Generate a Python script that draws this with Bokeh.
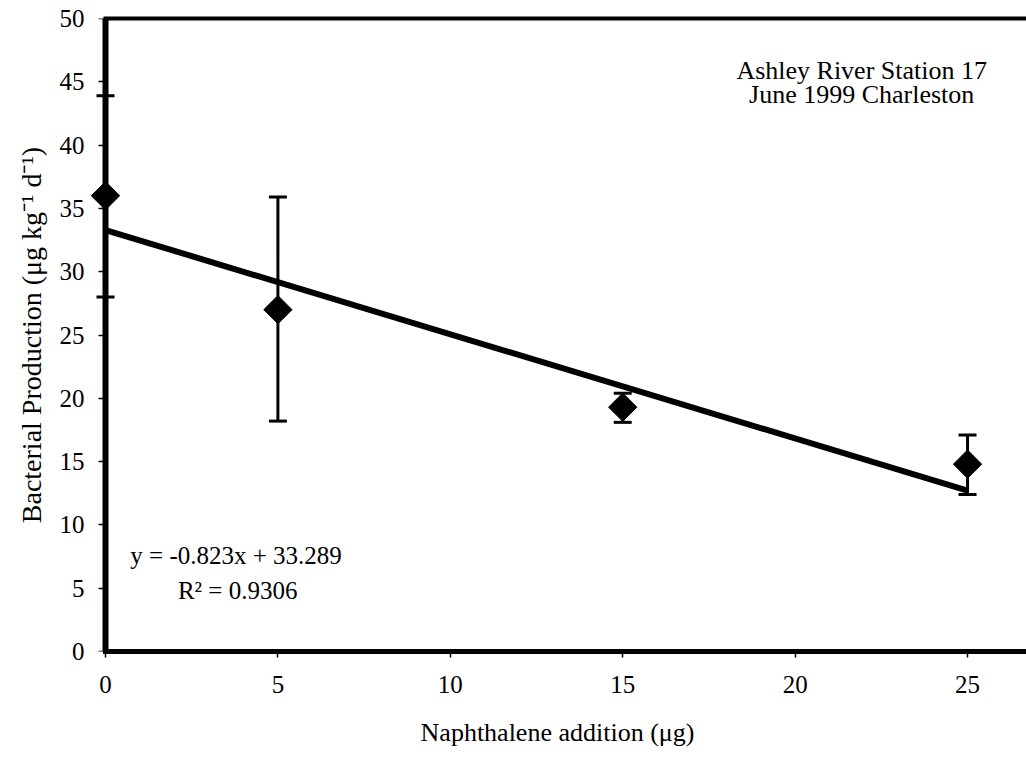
from bokeh.plotting import figure
from bokeh.models import (ColumnDataSource, Whisker, TeeHead, Label, LinearAxis,
                          FixedTicker, Range1d)
from bokeh.embed import file_html
from bokeh.resources import INLINE

# ---- data ----
naphthalene = [0, 5, 15, 25]
production = [36.0, 27.0, 19.3, 14.8]
err_upper = [43.9, 35.9, 20.4, 17.1]
err_lower = [28.0, 18.2, 18.1, 12.4]
slope = -0.823
intercept = 33.289
fit_x = [0, 25]
x_ticks = [0, 5, 10, 15, 20, 25]
y_ticks = [0, 5, 10, 15, 20, 25, 30, 35, 40, 45, 50]
eq_text = "y = -0.823x + 33.289"
r2_text = "R\u00b2 = 0.9306"
station_lines = ["Ashley River Station 17", "June 1999 Charleston"]

FONT = "Liberation Serif"
FS = "25px"
X_START = -0.493
X_END = 26.71

p = figure(width=1026, height=757, x_range=Range1d(X_START, X_END), y_range=Range1d(0, 50),
           output_backend="svg", toolbar_location=None,
           x_axis_type=None, y_axis_type=None,
           min_border_left=88, min_border_right=0, min_border_top=18, min_border_bottom=106)
p.outline_line_color = None
p.background_fill_color = "white"
p.border_fill_color = "white"

def style_axis(ax):
    ax.axis_line_color = "black"
    ax.axis_line_cap = "square"
    ax.major_tick_line_color = "black"
    ax.major_tick_line_width = 1.5
    ax.major_tick_in = 0
    ax.minor_tick_line_color = None
    ax.major_label_text_font = FONT
    ax.major_label_text_font_size = FS
    ax.major_label_text_color = "black"
    ax.axis_label_text_font = FONT
    ax.axis_label_text_font_size = FS
    ax.axis_label_text_font_style = "normal"
    ax.axis_label_text_color = "black"

# bottom axis (line starts at x = 0)
xaxis = LinearAxis(ticker=FixedTicker(ticks=x_ticks), axis_label="Naphthalene addition (\u03bcg)",
                   bounds=(0, X_END))
style_axis(xaxis)
xaxis.axis_line_width = 5
xaxis.major_tick_out = 6
xaxis.major_label_standoff = 18
xaxis.axis_label_standoff = 22
xaxis.axis_label_text_font_size = "26px"
p.add_layout(xaxis, "below")

# left axis: labels + title only (sits at the frame edge)
ylab = LinearAxis(ticker=FixedTicker(ticks=y_ticks),
                  axis_label="Bacterial Production (\u03bcg kg\u207b\u00b9 d\u207b\u00b9)")
style_axis(ylab)
ylab.axis_line_color = None
ylab.major_tick_line_color = None
ylab.major_tick_out = 0
ylab.major_label_standoff = 4
ylab.axis_label_standoff = 10
ylab.axis_label_text_font_size = "28px"
p.add_layout(ylab, "left")

# left axis line + ticks drawn at x = 0
yline = LinearAxis(ticker=FixedTicker(ticks=y_ticks), fixed_location=0, bounds=(0, 50))
style_axis(yline)
yline.axis_line_width = 6
yline.major_tick_out = 7
yline.major_label_text_color = None
yline.major_label_text_font_size = "0px"
p.add_layout(yline, "left")

# top border line
top = LinearAxis(ticker=FixedTicker(ticks=[]), bounds=(0, X_END))
style_axis(top)
top.axis_line_width = 4
top.major_label_text_font_size = "0px"
top.major_label_standoff = 0
top.major_tick_out = 0
p.add_layout(top, "above")

# trendline
fit_y = [slope * x + intercept for x in fit_x]
p.line(fit_x, fit_y, line_color="black", line_width=6)

src = ColumnDataSource(dict(x=naphthalene, y=production, lo=err_lower, hi=err_upper))
wh = Whisker(source=src, base="x", lower="lo", upper="hi", dimension="height",
             line_color="black", line_width=3,
             upper_head=TeeHead(size=18, line_color="black", line_width=3),
             lower_head=TeeHead(size=18, line_color="black", line_width=3))
p.add_layout(wh)

p.scatter("x", "y", source=src, marker="square", angle=0.7853981634, size=20,
          fill_color="black", line_color="black")

def lab(x, y, t, align="left", fs=FS):
    p.add_layout(Label(x=x, y=y, text=t, text_font=FONT, text_font_size=fs,
                       text_color="black", text_align=align, text_baseline="middle"))

lab(0.72, 7.58, eq_text)
lab(2.1, 4.82, r2_text)
lab(21.93, 45.9, station_lines[0], "center", "26px")
lab(21.93, 44.0, station_lines[1], "center", "26px")

open("out.html", "w").write(file_html(p, INLINE))
